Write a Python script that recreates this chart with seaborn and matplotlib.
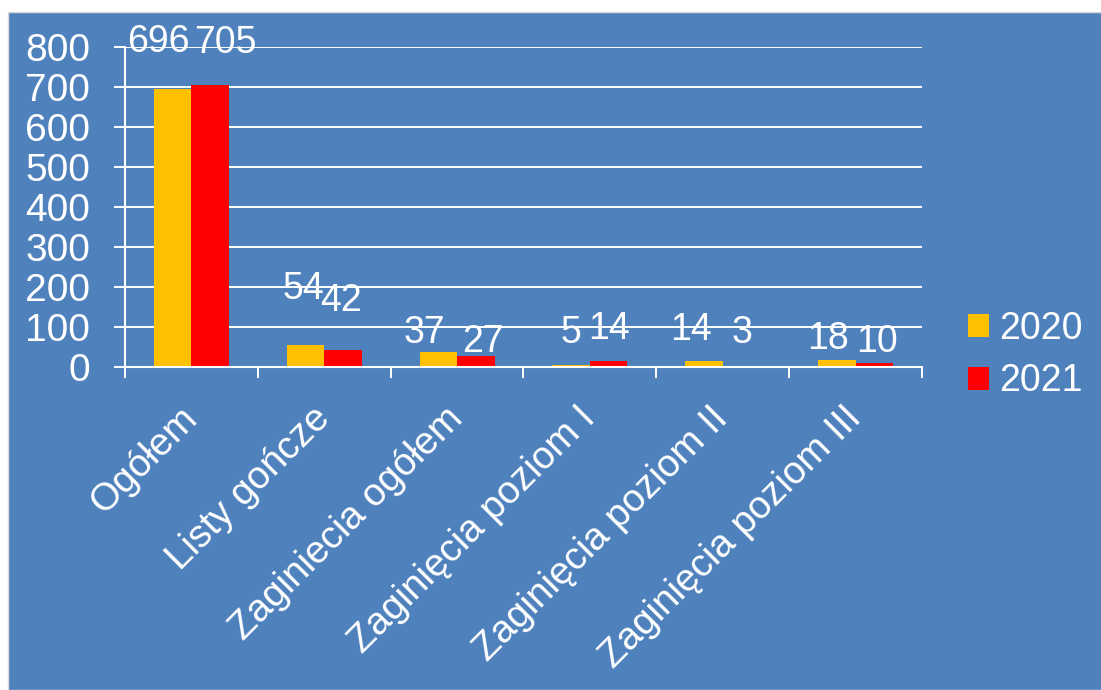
import matplotlib
matplotlib.use('Agg')
import matplotlib.pyplot as plt
from matplotlib.patches import Rectangle, Patch
import seaborn as sns
import pandas as pd

# data
categories = ['Ogółem', 'Listy gończe', 'Zaginiecia ogółem',
              'Zaginięcia poziom I', 'Zaginięcia poziom II', 'Zaginięcia poziom III']
years = ['2020', '2021']
values_2020 = [696, 54, 37, 5, 14, 18]
values_2021 = [705, 42, 27, 14, 3, 10]
y_ticks = [0, 100, 200, 300, 400, 500, 600, 700, 800]

colors = {'2020': '#FFC000', '2021': '#FF0000'}
bg = '#4F81BD'

# label offsets (pixels) relative to top-centre of each bar, as laid out in the original
label_offsets = {
    '2020': [(-14, 47), (-2, 56), (-14, 19), (0, 32), (-13, 31), (-9, 21)],
    '2021': [(15, 42), (-2, 49), (7, 14), (0, 32), (0, 33), (3, 21)],
}

df = pd.DataFrame({
    'kategoria': categories * 2,
    'rok': ['2020'] * len(categories) + ['2021'] * len(categories),
    'liczba': values_2020 + values_2021,
})

plt.rcParams['font.family'] = ['Liberation Sans', 'DejaVu Sans']

fig = plt.figure(figsize=(11.01, 6.9), dpi=100, facecolor='white')
fig.patches.append(Rectangle((8 / 1101, 0), 1, 678 / 690, transform=fig.transFigure,
                             facecolor=bg, edgecolor='#D9D9D9', lw=1, zorder=-10))

ax = fig.add_axes([125 / 1101, 1 - 367 / 690, 797 / 1101, 320 / 690])
ax.set_facecolor('none')

sns.barplot(data=df, x='kategoria', y='liczba', hue='rok', hue_order=years,
            palette=colors, width=0.565, gap=0, saturation=1, errorbar=None,
            edgecolor='none', legend=False, ax=ax)

ax.set_xlim(-0.5, 5.5)
ax.set_ylim(0, 800)
ax.set_xlabel('')
ax.set_ylabel('')

for s in ['top', 'right']:
    ax.spines[s].set_visible(False)
for s in ['left', 'bottom']:
    ax.spines[s].set_color('white')
    ax.spines[s].set_linewidth(1.5)

ax.set_yticks(y_ticks)
ax.yaxis.grid(True, color='white', lw=1.4)
ax.set_axisbelow(True)
ax.tick_params(axis='y', colors='white', length=8, width=1.4, labelsize=28, pad=17)

ax.set_xticks(range(len(categories)))
ax.set_xticklabels(categories, rotation=45, ha='right', va='center',
                   rotation_mode='anchor', fontsize=27.7, color='white')
ax.set_xticks([i - 0.5 for i in range(len(categories) + 1)], minor=True)
ax.tick_params(axis='x', which='major', length=0, pad=33)
ax.tick_params(axis='x', which='minor', length=8, width=1.4, colors='white')

# value labels
for cont, year, vals in zip(ax.containers, years, [values_2020, values_2021]):
    for bar, v, (dx, dy) in zip(cont, vals, label_offsets[year]):
        ax.annotate(str(v), xy=(bar.get_x() + bar.get_width() / 2, bar.get_height()),
                    xytext=(dx, dy), textcoords='offset pixels',
                    ha='center', va='center', fontsize=27, color='white',
                    annotation_clip=False)

handles = [Patch(facecolor=colors[y], edgecolor='none') for y in years]
fig.legend(handles, years, loc='center left', bbox_to_anchor=(968 / 1101, 1 - 355 / 690),
           frameon=False, fontsize=27, labelcolor='white', handlelength=0.56,
           handleheight=0.56, handletextpad=0.27, labelspacing=0.45,
           borderpad=0, borderaxespad=0)

fig.savefig('out.png', dpi=100, facecolor='white')
